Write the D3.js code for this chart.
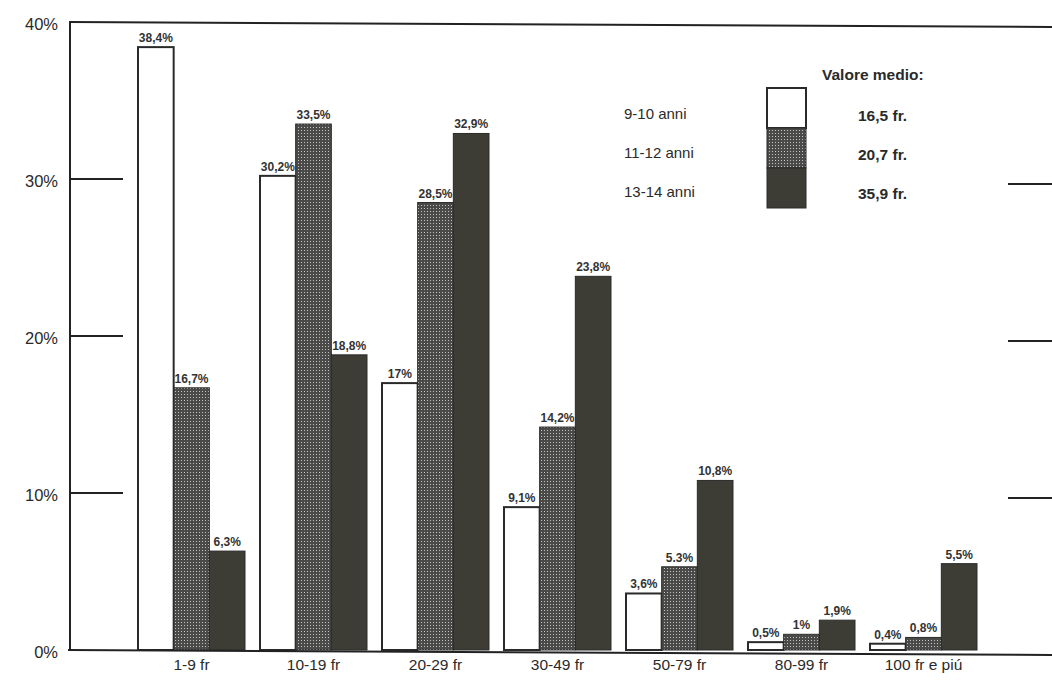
<!DOCTYPE html>
<html>
<head>
<meta charset="utf-8">
<script src="https://cdn.jsdelivr.net/npm/d3@7"></script>
<style>
  body { margin: 0; background: #fff; }
  svg { display: block; font-family: "Liberation Sans", Arial, sans-serif; }
</style>
</head>
<body>
<div id="chart"></div>
<script>
// categories (price ranges) and the three age groups
const categories = ["1-9 fr", "10-19 fr", "20-29 fr", "30-49 fr", "50-79 fr", "80-99 fr", "100 fr e piú"];
const series = ["9-10 anni", "11-12 anni", "13-14 anni"];
const meanValues = ["16,5 fr.", "20,7 fr.", "35,9 fr."];

const values910 = [38.4, 30.2, 17, 9.1, 3.6, 0.5, 0.4];
const values1112 = [16.7, 33.5, 28.5, 14.2, 5.3, 1, 0.8];
const values1314 = [6.3, 18.8, 32.9, 23.8, 10.8, 1.9, 5.5];

const labels910 = ["38,4%", "30,2%", "17%", "9,1%", "3,6%", "0,5%", "0,4%"];
const labels1112 = ["16,7%", "33,5%", "28,5%", "14,2%", "5.3%", "1%", "0,8%"];
const labels1314 = ["6,3%", "18,8%", "32,9%", "23,8%", "10,8%", "1,9%", "5,5%"];

const yTicks = [0, 10, 20, 30, 40];

const width = 1052, height = 698;

const svg = d3.select("#chart").append("svg")
    .attr("width", width)
    .attr("height", height);

// dotted grey pattern for the middle series
const defs = svg.append("defs");
const pat = defs.append("pattern")
    .attr("id", "dots")
    .attr("width", 3).attr("height", 3)
    .attr("patternUnits", "userSpaceOnUse");
pat.append("rect").attr("width", 3).attr("height", 3).attr("fill", "#4a4a48");
pat.append("rect").attr("x", 1).attr("y", 1).attr("width", 1).attr("height", 1).attr("fill", "#c4c4c4");

const fills = ["#ffffff", "url(#dots)", "#3d3d36"];

const y = d3.scaleLinear().domain([0, 40]).range([650, 22]);

const x = d3.scaleBand()
    .domain(categories)
    .range([130.5, 984.5])
    .paddingInner(0.123)
    .paddingOuter(0.0615);

const xs = d3.scaleBand().domain(series).range([0, x.bandwidth()]);

const tilt = 5; // the scan is slightly rotated: right side sits lower

// frame: left axis, top line
svg.append("line")
    .attr("x1", 70).attr("x2", 70)
    .attr("y1", y(40)).attr("y2", y(0))
    .attr("stroke", "#222").attr("stroke-width", 2);
svg.append("line")
    .attr("x1", 69).attr("x2", width)
    .attr("y1", y(40)).attr("y2", y(40) + tilt)
    .attr("stroke", "#222").attr("stroke-width", 2);

// ticks (left and right) and labels
yTicks.forEach(t => {
  if (t > 0 && t < 40) {
    svg.append("line")
      .attr("x1", 70).attr("x2", 123)
      .attr("y1", y(t)).attr("y2", y(t))
      .attr("stroke", "#222").attr("stroke-width", 2);
    svg.append("line")
      .attr("x1", 1008).attr("x2", width)
      .attr("y1", y(t) + tilt).attr("y2", y(t) + tilt)
      .attr("stroke", "#222").attr("stroke-width", 2);
  }
  svg.append("text")
    .attr("x", 58).attr("y", y(t) + 8)
    .attr("text-anchor", "end")
    .attr("font-size", 16.5)
    .attr("fill", "#2a2a2a")
    .text(t + "%");
});

// bars
const allValues = [values910, values1112, values1314];
const allLabels = [labels910, labels1112, labels1314];

series.forEach((s, si) => {
  const g = svg.append("g");
  g.selectAll("rect")
    .data(categories)
    .enter()
    .append("rect")
      .attr("x", (c) => x(c) + xs(s))
      .attr("y", (c, i) => y(allValues[si][i]))
      .attr("width", xs.bandwidth())
      .attr("height", (c, i) => y(0) - y(allValues[si][i]))
      .attr("fill", fills[si])
      .attr("stroke", "#2a2a2a")
      .attr("stroke-width", si === 0 ? 2 : 1);
  g.selectAll("text")
    .data(categories)
    .enter()
    .append("text")
      .attr("x", (c) => x(c) + xs(s) + xs.bandwidth() / 2)
      .attr("y", (c, i) => y(allValues[si][i]) - 5)
      .attr("text-anchor", "middle")
      .attr("font-size", 12)
      .attr("font-weight", "bold")
      .attr("fill", "#333")
      .text((c, i) => allLabels[si][i]);
});

// baseline drawn over bars
svg.append("line")
    .attr("x1", 68).attr("x2", width)
    .attr("y1", y(0)).attr("y2", y(0) + tilt)
    .attr("stroke", "#222").attr("stroke-width", 2);

// category labels
svg.append("g").selectAll("text")
  .data(categories)
  .enter()
  .append("text")
    .attr("x", d => x(d) + x.bandwidth() / 2)
    .attr("y", 670)
    .attr("text-anchor", "middle")
    .attr("font-size", 15.5)
    .attr("fill", "#2a2a2a")
    .text(d => d);

// legend
const leg = svg.append("g");
leg.append("text")
    .attr("x", 822).attr("y", 80)
    .attr("font-size", 15.5).attr("font-weight", "bold")
    .attr("fill", "#2a2a2a")
    .text("Valore medio:");
series.forEach((s, i) => {
  leg.append("rect")
    .attr("x", 767).attr("y", 88 + i * 40)
    .attr("width", 39).attr("height", 40)
    .attr("fill", fills[i])
    .attr("stroke", "#2a2a2a").attr("stroke-width", i === 0 ? 2 : 1);
  leg.append("text")
    .attr("x", 624).attr("y", 119 + i * 39)
    .attr("font-size", 15)
    .attr("fill", "#2a2a2a")
    .text(s);
  leg.append("text")
    .attr("x", 858).attr("y", 121 + i * 39)
    .attr("font-size", 15.5).attr("font-weight", "bold")
    .attr("fill", "#2a2a2a")
    .text(meanValues[i]);
});
</script>
</body>
</html>
